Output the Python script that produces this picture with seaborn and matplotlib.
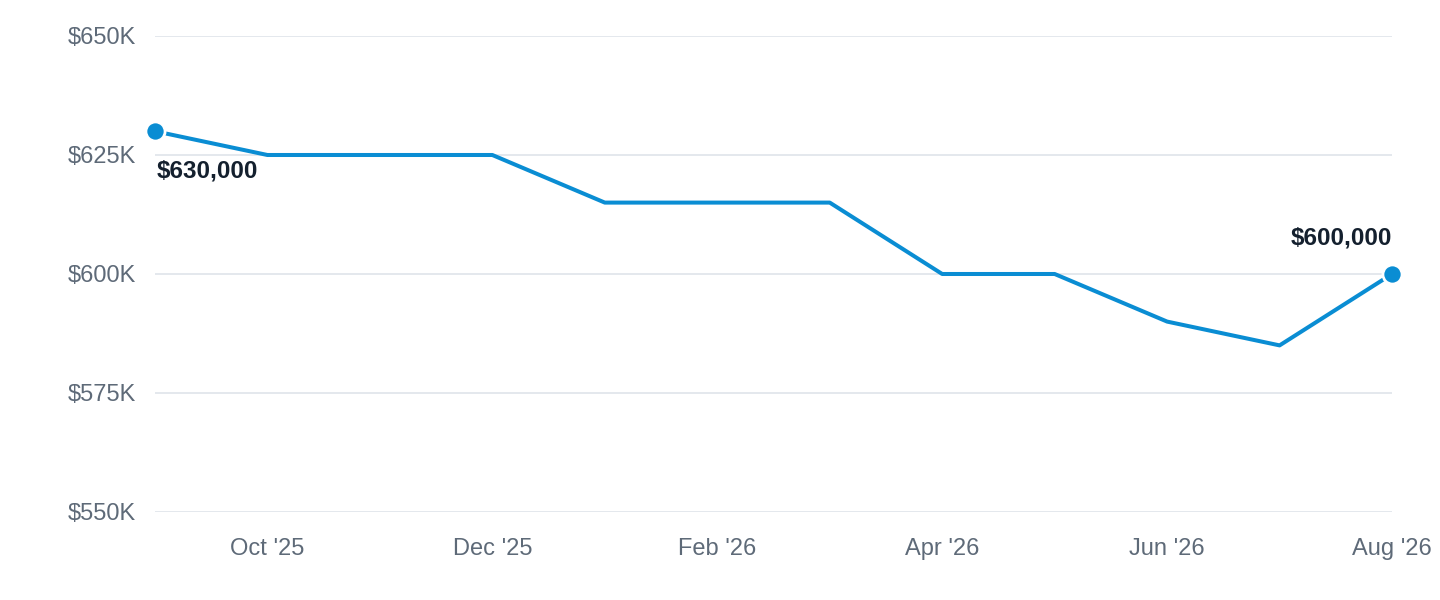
import matplotlib
matplotlib.use("Agg")
import matplotlib.pyplot as plt
import seaborn as sns
import pandas as pd
from matplotlib.ticker import FuncFormatter

months = ["Sep '25", "Oct '25", "Nov '25", "Dec '25", "Jan '26", "Feb '26",
          "Mar '26", "Apr '26", "May '26", "Jun '26", "Jul '26", "Aug '26"]
prices = [630000, 625000, 625000, 625000, 615000, 615000,
          615000, 600000, 600000, 590000, 585000, 600000]
yticks = [550000, 575000, 600000, 625000, 650000]

df = pd.DataFrame({"idx": range(len(months)), "month": months, "price": prices})

sns.set_style("white")
plt.rcParams["font.family"] = ["Liberation Sans", "DejaVu Sans"]

fig = plt.figure(figsize=(14.4, 6), dpi=100)
ax = fig.add_axes([0.1076, 0.1467, 0.8591, 0.7933])

line_color = "#0a8dd3"
sns.lineplot(data=df, x="idx", y="price", ax=ax, color=line_color, linewidth=2.9)

ends = df.iloc[[0, -1]]
sns.scatterplot(data=ends, x="idx", y="price", ax=ax, color=line_color,
                s=190, edgecolor="white", linewidth=2, zorder=5, clip_on=False)

ax.set_xlim(0, len(months) - 1)
ax.set_ylim(yticks[0], yticks[-1])
ax.set_yticks(yticks)
ax.yaxis.set_major_formatter(FuncFormatter(lambda v, p: f"${v/1000:.0f}K"))
tick_idx = [1, 3, 5, 7, 9, 11]
ax.set_xticks(tick_idx)
ax.set_xticklabels([months[i] for i in tick_idx])

ax.grid(axis="y", color="#e2e6ec", linewidth=1.3)
ax.grid(axis="x", visible=False)
for s in ax.spines.values():
    s.set_visible(False)
ax.tick_params(axis="both", length=0, labelsize=17, labelcolor="#5e6a78")
ax.tick_params(axis="y", pad=14)
ax.tick_params(axis="x", pad=19)
ax.set_xlabel("")
ax.set_ylabel("")

first, last = df.iloc[0], df.iloc[-1]
ax.annotate(f"${first.price:,.0f}", (first.idx, first.price), xytext=(1, -29),
            textcoords="offset points", ha="left", va="center",
            fontsize=17.5, fontweight="bold", color="#14202e")
ax.annotate(f"${last.price:,.0f}", (last.idx, last.price), xytext=(0, 26),
            textcoords="offset points", ha="right", va="center",
            fontsize=17.5, fontweight="bold", color="#14202e")

fig.savefig("out.png", dpi=100)
